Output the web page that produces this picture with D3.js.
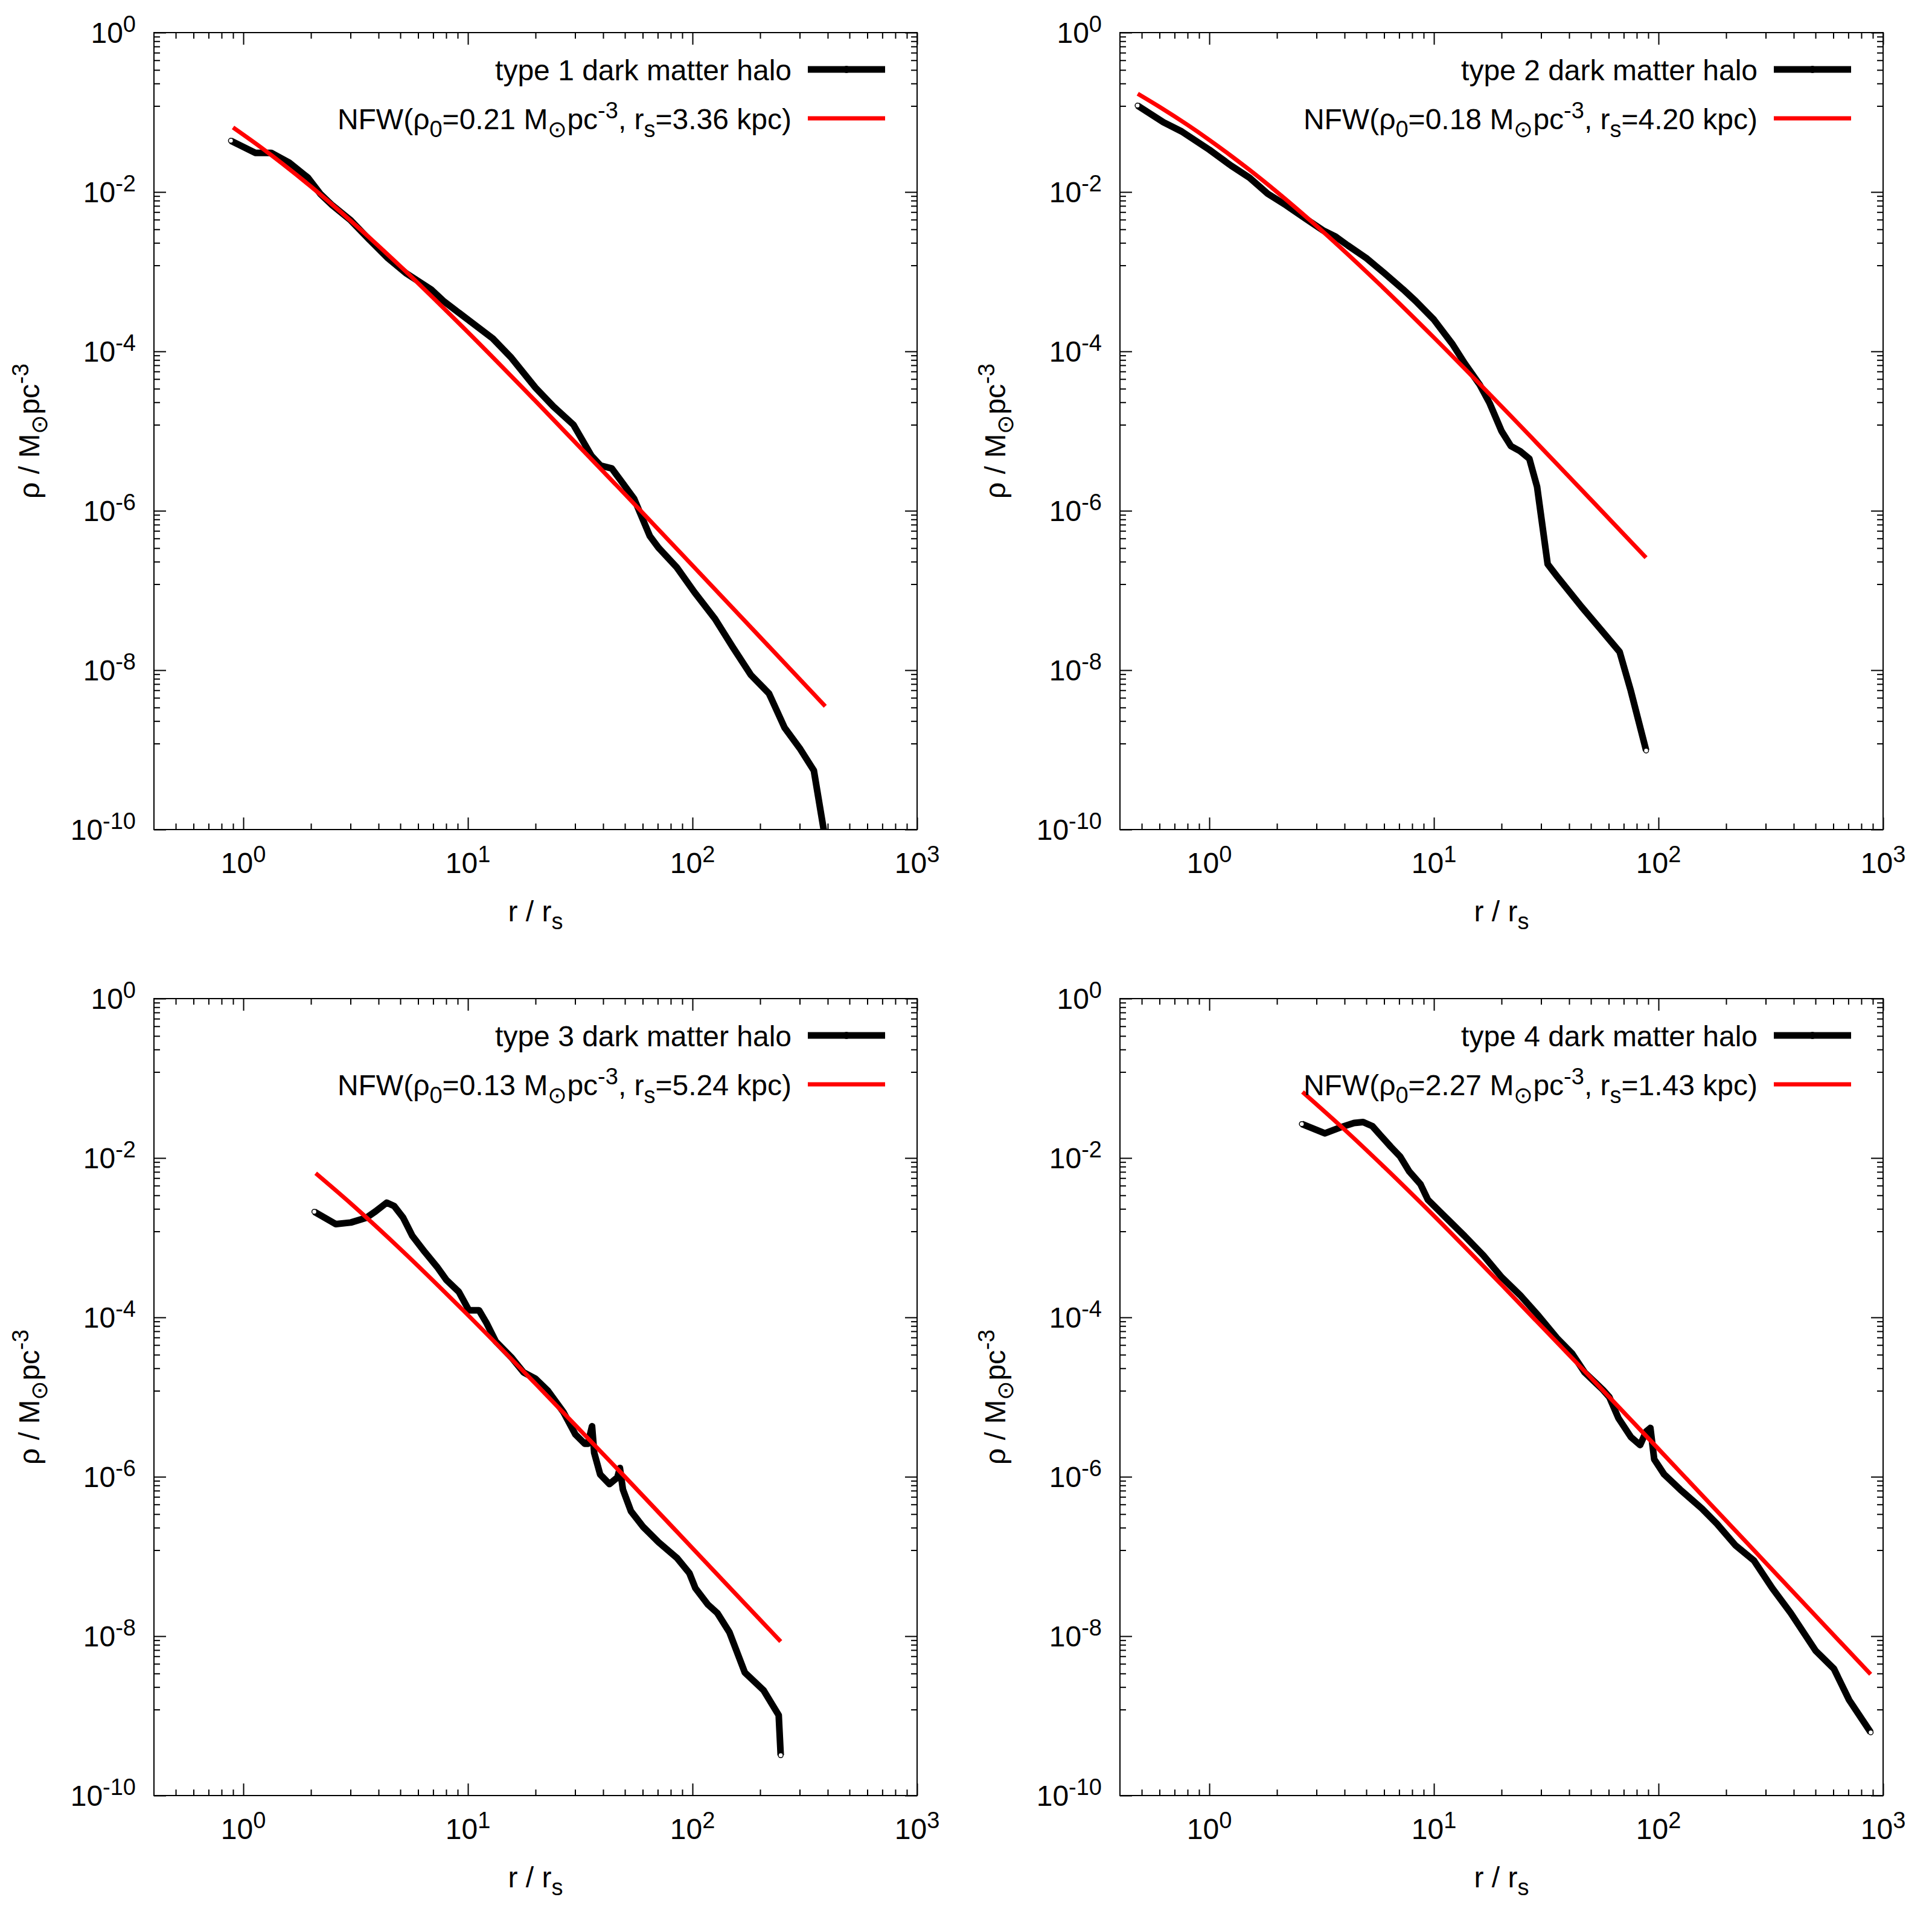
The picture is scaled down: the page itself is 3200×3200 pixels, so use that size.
<!DOCTYPE html>
<html>
<head>
<meta charset="utf-8">
<script src="https://cdnjs.cloudflare.com/ajax/libs/d3/7.8.5/d3.min.js"></script>
<style>
    body { margin: 0; background: #fff; }
    text { font-family: "Liberation Sans", Arial, sans-serif; fill: #000; }
</style>
</head>
<body>
<div id="visualization-area"></div>
<script>

// halo profiles (r / r_s , rho in Msun pc^-3)
var halo1R   = [0.88, 1.13, 1.33, 1.60, 1.94, 2.20, 2.49, 3.01, 3.65, 4.40, 5.32, 6.85, 7.77, 10.0, 12.9, 15.5, 20.0, 24.0, 29.5, 35.5, 38.9, 43.7, 47.9, 55.0, 64.6, 70.8, 85.1, 102, 126, 151, 182, 219, 257, 302, 347, 398];
var halo1Rho = [4.4e-2, 3.1e-2, 3.1e-2, 2.34e-2, 1.51e-2, 9.5e-3, 6.8e-3, 4.4e-3, 2.5e-3, 1.48e-3, 9.5e-4, 6.0e-4, 4.3e-4, 2.5e-4, 1.45e-4, 8.5e-5, 3.5e-5, 2.04e-5, 1.2e-5, 4.9e-6, 3.7e-6, 3.4e-6, 2.4e-6, 1.41e-6, 4.8e-7, 3.4e-7, 1.95e-7, 9.5e-8, 4.4e-8, 1.95e-8, 8.7e-9, 5.1e-9, 1.9e-9, 1.02e-9, 5.5e-10, 5.4e-11];

var halo2R   = [0.479, 0.624, 0.753, 1.0, 1.25, 1.51, 1.82, 2.20, 2.66, 3.21, 3.65, 4.13, 5.0, 6.04, 7.29, 8.28, 10.0, 12.1, 13.7, 16.0, 17.7, 20.0, 22.0, 24.2, 26.6, 28.8, 32.1, 35.3, 45.5, 55.0, 67.1, 75.3, 88.1];
var halo2Rho = [0.1216, 7.52e-2, 5.75e-2, 3.39e-2, 2.14e-2, 1.51e-2, 9.5e-3, 6.8e-3, 4.7e-3, 3.3e-3, 2.75e-3, 2.14e-3, 1.48e-3, 9.5e-4, 6.0e-4, 4.3e-4, 2.5e-4, 1.23e-4, 7.1e-5, 3.8e-5, 2.24e-5, 1.0e-5, 6.5e-6, 5.6e-6, 4.5e-6, 2.0e-6, 2.14e-7, 1.51e-7, 6.2e-8, 3.3e-8, 1.7e-8, 5.5e-9, 9.8e-10];

var halo3R   = [2.07, 2.58, 3.01, 3.53, 3.88, 4.35, 4.69, 5.15, 5.66, 6.43, 7.29, 8.02, 9.10, 10.1, 11.2, 12.1, 13.3, 15.6, 17.7, 20.0, 22.7, 26.6, 30.1, 33.1, 34.2, 35.7, 36.5, 38.8, 42.7, 46.3, 47.5, 49.0, 53.2, 60.4, 70.6, 85.5, 96.8, 103, 117, 129, 146, 171, 207, 242, 247];
var halo3Rho = [2.12e-3, 1.48e-3, 1.55e-3, 1.78e-3, 2.14e-3, 2.75e-3, 2.5e-3, 1.78e-3, 1.05e-3, 6.6e-4, 4.3e-4, 2.95e-4, 2.1e-4, 1.23e-4, 1.23e-4, 8.5e-5, 5.0e-5, 3.16e-5, 2.04e-5, 1.7e-5, 1.2e-5, 6.5e-6, 3.4e-6, 2.6e-6, 2.6e-6, 4.3e-6, 2.0e-6, 1.07e-6, 8.1e-7, 9.8e-7, 1.29e-6, 6.9e-7, 3.7e-7, 2.34e-7, 1.51e-7, 9.5e-8, 6.2e-8, 4.0e-8, 2.5e-8, 1.95e-8, 1.12e-8, 3.5e-9, 2.1e-9, 1.02e-9, 3.2e-10];

var halo4R   = [2.58, 3.27, 3.88, 4.41, 4.84, 5.32, 5.74, 6.43, 7.06, 7.76, 8.71, 9.40, 10.6, 12.1, 13.7, 16.6, 20.0, 24.2, 29.2, 35.3, 41.3, 46.9, 56.6, 60.4, 66.4, 75.3, 82.8, 88.1, 92.0, 95.7, 106, 125, 156, 182, 220, 266, 321, 388, 500, 604, 706, 881];
var halo4Rho = [2.67e-2, 2.04e-2, 2.45e-2, 2.75e-2, 2.82e-2, 2.51e-2, 1.97e-2, 1.38e-2, 1.05e-2, 6.8e-3, 4.7e-3, 3.0e-3, 2.14e-3, 1.48e-3, 1.05e-3, 6.0e-4, 3.2e-4, 1.9e-4, 1.05e-4, 5.5e-5, 3.5e-5, 2.04e-5, 1.23e-5, 1.0e-5, 5.4e-6, 3.16e-6, 2.5e-6, 3.7e-6, 4.1e-6, 1.66e-6, 1.07e-6, 6.9e-7, 4.0e-7, 2.57e-7, 1.38e-7, 8.9e-8, 4.0e-8, 1.95e-8, 6.6e-9, 3.9e-9, 1.58e-9, 6.2e-10];

// red NFW curves, read at a handful of radii
var nfw1R   = [0.9, 1.2, 1.5, 2, 3, 5, 10, 20, 50, 100, 200, 390];
var nfw1Rho = [6.46e-2, 3.62e-2, 2.24e-2, 1.17e-2, 4.38e-3, 1.17e-3, 1.74e-4, 2.38e-5, 1.62e-6, 2.06e-7, 2.6e-8, 3.52e-9];
var nfw2R   = [0.48, 0.6, 0.8, 1, 1.5, 2, 3, 5, 10, 20, 50, 88];
var nfw2Rho = [0.171, 0.117, 6.94e-2, 4.5e-2, 1.92e-2, 1.0e-2, 3.75e-3, 1.0e-3, 1.49e-4, 2.04e-5, 1.38e-6, 2.58e-7];
var nfw3R   = [2.1, 3, 5, 10, 20, 50, 100, 247];
var nfw3Rho = [6.44e-3, 2.71e-3, 7.22e-4, 1.07e-4, 1.47e-5, 1.0e-6, 1.27e-7, 8.56e-9];
var nfw4R   = [2.6, 4, 6, 10, 20, 50, 100, 300, 880];
var nfw4Rho = [6.74e-2, 2.27e-2, 7.72e-3, 1.88e-3, 2.57e-4, 1.75e-5, 2.23e-6, 8.35e-8, 3.32e-9];

var haloNames = ["type 1 dark matter halo", "type 2 dark matter halo", "type 3 dark matter halo", "type 4 dark matter halo"];
var nfwRho0   = ["0.21", "0.18", "0.13", "2.27"];
var nfwRs     = ["3.36", "4.20", "5.24", "1.43"];

var xTickValues = [1, 10, 100, 1000];
var xTickExp    = ["0", "1", "2", "3"];
var yTickValues = [1, 1e-2, 1e-4, 1e-6, 1e-8, 1e-10];
var yTickExp    = ["0", "-2", "-4", "-6", "-8", "-10"];

var panels = [
    {halo: [halo1R, halo1Rho], nfw: [nfw1R, nfw1Rho]},
    {halo: [halo2R, halo2Rho], nfw: [nfw2R, nfw2Rho]},
    {halo: [halo3R, halo3Rho], nfw: [nfw3R, nfw3Rho]},
    {halo: [halo4R, halo4Rho], nfw: [nfw4R, nfw4Rho]}
];

var margin = {top: 54, left: 255},
    width = 1264,
    height = 1320,
    fontMain = 48,
    fontSmall = 38;

var svg = d3.select("#visualization-area").append("svg")
    .attr("width", 3200)
    .attr("height", 3200);

svg.append("rect").attr("width", 3200).attr("height", 3200).attr("fill", "#fff");

function zip(a, b) {
    var out = [];
    for (var i = 0; i < a.length; i++) out.push({r: a[i], rho: b[i]});
    return out;
}

// minor tick positions
function xMinor() {
    var v = [0.5, 0.6, 0.7, 0.8, 0.9];
    for (var p = 1; p <= 100; p *= 10)
        for (var k = 2; k <= 9; k++) v.push(k * p);
    return v;
}
function yMinor() {
    // gnuplot splits each two-decade step into 9 linear parts
    var v = [];
    for (var e = -10; e < 0; e += 2) {
        var lo = Math.pow(10, e), hi = Math.pow(10, e + 2);
        for (var k = 1; k <= 8; k++) v.push(lo + k * (hi - lo) / 9);
    }
    return v;
}

function addTicks(g, axis, tx, ty) {
    var a = g.append("g")
        .attr("transform", "translate(" + tx + "," + ty + ")")
        .call(axis);
    a.select(".domain").remove();
    a.selectAll("text").remove();
    a.selectAll("line").attr("stroke", "#000").attr("stroke-width", 2);
}

function label(sel, parts) {
    // parts: [text, kind] kind = "" | "sub" | "sup"
    var shift = 0;
    parts.forEach(function(p) {
        var t = sel.append("tspan").text(p[0]);
        var target = p[1] == "sub" ? 13 : (p[1] == "sup" ? -18 : 0);
        t.attr("dy", target - shift);
        shift = target;
        if (p[1]) t.style("font-size", fontSmall + "px");
    });
}

function drawPanel(idx) {
    var col = idx % 2, row = Math.floor(idx / 2);
    var d = panels[idx];

    var g = svg.append("g")
        .attr("transform", "translate(" + (col * 1600 + margin.left) + "," + (row * 1600 + margin.top) + ")");

    var x = d3.scaleLog().domain([0.4, 1000]).range([0, width]);
    var y = d3.scaleLog().domain([1e-10, 1]).range([height, 0]);

    g.append("clipPath").attr("id", "clip" + idx)
        .append("rect").attr("width", width).attr("height", height);

    // major and minor ticks on all four sides, pointing inward
    addTicks(g, d3.axisBottom(x).tickValues(xTickValues).tickSizeInner(-20).tickSizeOuter(0), 0, height);
    addTicks(g, d3.axisTop(x).tickValues(xTickValues).tickSizeInner(-20).tickSizeOuter(0), 0, 0);
    addTicks(g, d3.axisBottom(x).tickValues(xMinor()).tickSizeInner(-10).tickSizeOuter(0), 0, height);
    addTicks(g, d3.axisTop(x).tickValues(xMinor()).tickSizeInner(-10).tickSizeOuter(0), 0, 0);
    addTicks(g, d3.axisLeft(y).tickValues(yTickValues).tickSizeInner(-20).tickSizeOuter(0), 0, 0);
    addTicks(g, d3.axisRight(y).tickValues(yTickValues).tickSizeInner(-20).tickSizeOuter(0), width, 0);
    addTicks(g, d3.axisLeft(y).tickValues(yMinor()).tickSizeInner(-10).tickSizeOuter(0), 0, 0);
    addTicks(g, d3.axisRight(y).tickValues(yMinor()).tickSizeInner(-10).tickSizeOuter(0), width, 0);

    g.append("rect")
        .attr("width", width).attr("height", height)
        .attr("fill", "none").attr("stroke", "#000").attr("stroke-width", 2);

    // tick labels
    xTickValues.forEach(function(v, i) {
        var t = g.append("text")
            .attr("x", x(v)).attr("y", height + 72)
            .attr("text-anchor", "middle")
            .style("font-size", fontMain + "px");
        t.append("tspan").text("10");
        t.append("tspan").attr("dy", -18).style("font-size", fontSmall + "px").text(xTickExp[i]);
    });
    yTickValues.forEach(function(v, i) {
        var t = g.append("text")
            .attr("x", -30).attr("y", y(v) + 17)
            .attr("text-anchor", "end")
            .style("font-size", fontMain + "px");
        t.append("tspan").text("10");
        t.append("tspan").attr("dy", -18).style("font-size", fontSmall + "px").text(yTickExp[i]);
    });

    // axis titles
    var xt = g.append("text")
        .attr("x", width / 2).attr("y", height + 152)
        .attr("text-anchor", "middle")
        .style("font-size", fontMain + "px");
    label(xt, [["r / r", ""], ["s", "sub"]]);

    var yt = g.append("text")
        .attr("transform", "translate(" + (65 - margin.left) + "," + (height / 2) + ") rotate(-90)")
        .attr("text-anchor", "middle")
        .style("font-size", fontMain + "px");
    label(yt, [["\u03c1 / M", ""], ["\u2299", "sub"], ["pc", ""], ["-3", "sup"]]);

    // curves
    var plot = g.append("g").attr("clip-path", "url(#clip" + idx + ")");

    var line = d3.line()
        .x(function(p) { return x(p.r); })
        .y(function(p) { return y(p.rho); });

    var haloData = zip(d.halo[0], d.halo[1]);
    plot.append("path")
        .datum(haloData)
        .attr("d", line)
        .attr("fill", "none")
        .attr("stroke", "#000")
        .attr("stroke-width", 11)
        .attr("stroke-linejoin", "round");

    var ends = [haloData[0], haloData[haloData.length - 1]].filter(function(p) { return p.rho >= 1e-10; });
    plot.selectAll(".endpt")
        .data(ends)
        .enter().append("circle")
        .attr("cx", function(p) { return x(p.r); })
        .attr("cy", function(p) { return y(p.rho); })
        .attr("r", 4)
        .attr("fill", "#fff")
        .attr("stroke", "#000")
        .attr("stroke-width", 1.5);

    var nfwLine = d3.line()
        .x(function(p) { return x(p.r); })
        .y(function(p) { return y(p.rho); })
        .curve(d3.curveMonotoneX);

    plot.append("path")
        .datum(zip(d.nfw[0], d.nfw[1]))
        .attr("d", nfwLine)
        .attr("fill", "none")
        .attr("stroke", "#ff0000")
        .attr("stroke-width", 7);

    // legend, top right
    var lg = g.append("g");
    lg.append("text")
        .attr("x", 1056).attr("y", 79)
        .attr("text-anchor", "end")
        .style("font-size", fontMain + "px")
        .text(haloNames[idx]);
    lg.append("line")
        .attr("x1", 1083).attr("x2", 1211).attr("y1", 61).attr("y2", 61)
        .attr("stroke", "#000").attr("stroke-width", 11);
    lg.append("circle")
        .attr("cx", 1147).attr("cy", 61).attr("r", 6)
        .attr("fill", "#000");

    var nt = lg.append("text")
        .attr("x", 1056).attr("y", 160)
        .attr("text-anchor", "end")
        .style("font-size", fontMain + "px");
    label(nt, [["NFW(\u03c1", ""], ["0", "sub"], ["=" + nfwRho0[idx] + " M", ""], ["\u2299", "sub"],
               ["pc", ""], ["-3", "sup"], [", r", ""], ["s", "sub"], ["=" + nfwRs[idx] + " kpc)", ""]]);
    lg.append("line")
        .attr("x1", 1083).attr("x2", 1211).attr("y1", 142).attr("y2", 142)
        .attr("stroke", "#ff0000").attr("stroke-width", 7);
}

for (var i = 0; i < 4; i++) drawPanel(i);

</script>
</body>
</html>
